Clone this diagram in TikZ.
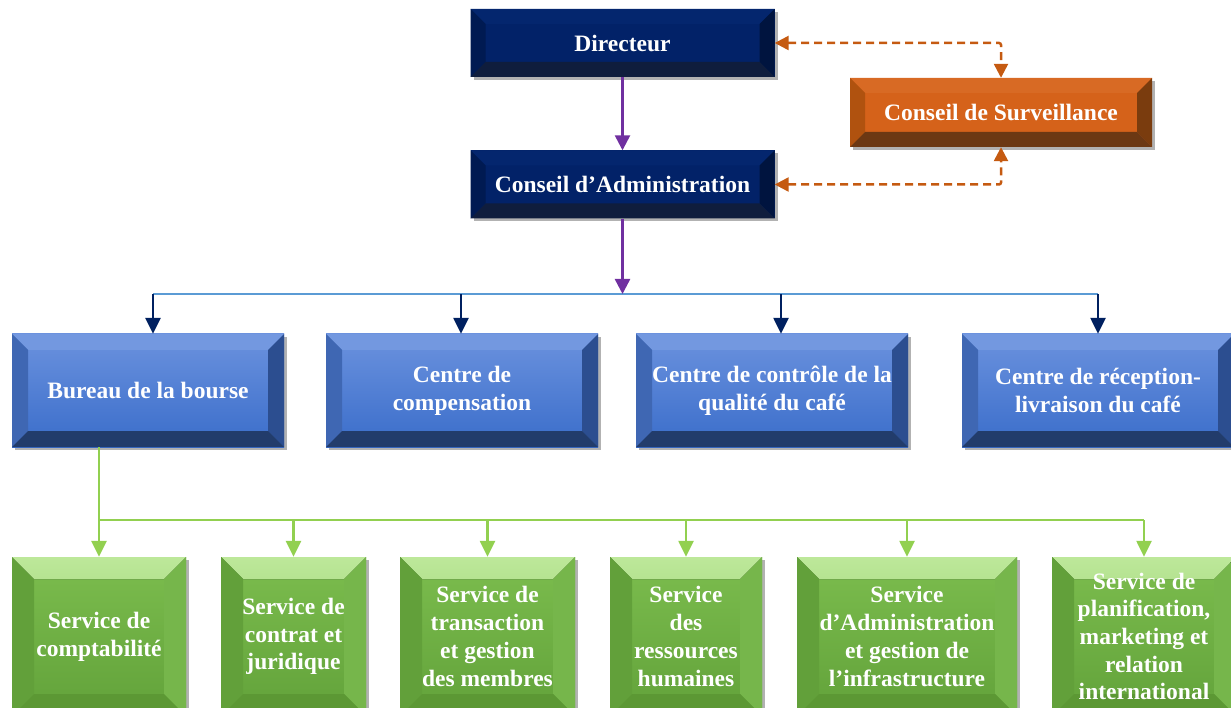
\documentclass[tikz,border=0pt]{standalone}
\usepackage{fontspec}
\setmainfont{Liberation Serif}
\usetikzlibrary{arrows.meta,shadows}
\definecolor{navyface}{HTML}{022268}
\definecolor{navytop}{HTML}{04266E}
\definecolor{navyleft}{HTML}{001A52}
\definecolor{navyright}{HTML}{00143F}
\definecolor{navybot}{HTML}{0F1D3D}
\definecolor{orface}{HTML}{D5621A}
\definecolor{ortop}{HTML}{D86A24}
\definecolor{orleft}{HTML}{B0520F}
\definecolor{orright}{HTML}{7A3C0E}
\definecolor{orbot}{HTML}{6C3813}
\definecolor{blutop}{HTML}{6B92DE}
\definecolor{blubot}{HTML}{3A6DCA}
\definecolor{bluetopb}{HTML}{7398E0}
\definecolor{blueleft}{HTML}{3F67B3}
\definecolor{blueright}{HTML}{2C4E90}
\definecolor{bluebot}{HTML}{223C6B}
\definecolor{grtop}{HTML}{7CBD4E}
\definecolor{grbot}{HTML}{62A23A}
\definecolor{grtopa}{HTML}{BDE89A}
\definecolor{grtopz}{HTML}{86C45A}
\definecolor{grleft}{HTML}{62A03A}
\definecolor{grright}{HTML}{76B64B}
\definecolor{grbotb}{HTML}{5C9834}
\definecolor{purp}{HTML}{7030A0}
\definecolor{orline}{HTML}{C55A11}
\definecolor{navyline}{HTML}{002060}
\definecolor{busblue}{HTML}{5B9BD5}
\definecolor{grline}{HTML}{92D050}
\newcommand{\bevelpp}[5]{%
 \def\pb{path picture bounding box}%
 \fill[#2] (\pb.north west) -- (\pb.north east) -- ([xshift=-#1,yshift=-#1]\pb.north east) -- ([xshift=#1,yshift=-#1]\pb.north west) -- cycle;
 \fill[#3] (\pb.north west) -- ([xshift=#1,yshift=-#1]\pb.north west) -- ([xshift=#1,yshift=#1]\pb.south west) -- (\pb.south west) -- cycle;
 \fill[#4] (\pb.north east) -- ([xshift=-#1,yshift=-#1]\pb.north east) -- ([xshift=-#1,yshift=#1]\pb.south east) -- (\pb.south east) -- cycle;
 \fill[#5] (\pb.south west) -- ([xshift=#1,yshift=#1]\pb.south west) -- ([xshift=-#1,yshift=#1]\pb.south east) -- (\pb.south east) -- cycle;
}
\tikzset{
 boxbase/.style={rectangle, inner sep=0pt, align=center, text=white,
   font=\fontsize{23.5}{27.7}\selectfont\bfseries,
   drop shadow={shadow xshift=3pt, shadow yshift=-3pt, opacity=0.3, fill=black}},
 navybox/.style={boxbase, fill=navyface, minimum width=304pt, minimum height=68pt,
   path picture={\bevelpp{15pt}{navytop}{navyleft}{navyright}{navybot}}},
 orbox/.style={boxbase, fill=orface, minimum width=302pt, minimum height=69pt,
   path picture={\bevelpp{15pt}{ortop}{orleft}{orright}{orbot}}},
 bluebox/.style={boxbase, top color=blutop, bottom color=blubot, minimum width=272pt, minimum height=113pt,
   path picture={\bevelpp{16pt}{bluetopb}{blueleft}{blueright}{bluebot}}},
 grbox/.style={boxbase, top color=grtop, bottom color=grbot, minimum height=159pt,
   path picture={\bevelpp{22pt}{top color=grtopa, bottom color=grtopz}{grleft}{grright}{grbotb}}},
 purarrow/.style={draw=purp, line width=2.5pt, -{Triangle[width=15pt,length=15pt]}},
 navyarrow/.style={draw=navyline, line width=2.5pt, -{Triangle[width=15pt,length=16pt]}},
 grarrow/.style={draw=grline, line width=2.5pt, -{Triangle[width=15pt,length=16pt]}},
 orarrow/.style={draw=orline, line width=2.5pt, dash pattern=on 8pt off 5pt, rounded corners=2pt,
   {Triangle[width=14pt,length=14pt]}-{Triangle[width=14pt,length=14pt]}},
}
\begin{document}
\begin{tikzpicture}[x=1pt,y=-1pt]
\useasboundingbox (0,0) rectangle (1231,708);
% top boxes
\node[navybox] (dir) at (622.5,43) {Directeur};
\node[navybox] (ca) at (622.5,184.5) {Conseil d’Administration};
\node[orbox] (cs) at (1001,112.5) {Conseil de Surveillance};
% blue boxes
\node[bluebox] (b1) at (148,390.5) {Bureau de la bourse};
\node[bluebox] (b2) at (462,390.5) {Centre de\\compensation};
\node[bluebox] (b3) at (772,390.5) {Centre de contrôle de la\\qualité du café};
\node[bluebox] (b4) at (1098,390.5) {Centre de réception-\\livraison du café};
% green boxes
\node[grbox, minimum width=174pt] (g1) at (99,636.5) {Service de\\comptabilité};
\node[grbox, minimum width=145pt] (g2) at (293.5,636.5) {Service de\\contrat et\\juridique};
\node[grbox, minimum width=175pt] (g3) at (487.5,636.5) {Service de\\transaction\\et gestion\\des membres};
\node[grbox, minimum width=152pt] (g4) at (686,636.5) {Service\\des\\ressources\\humaines};
\node[grbox, minimum width=220pt] (g5) at (907,636.5) {Service\\d’Administration\\et gestion de\\l’infrastructure};
\node[grbox, minimum width=184pt] (g6) at (1144,636.5) {Service de\\planification,\\marketing et\\relation\\international};
% connectors top
\draw[purarrow] (dir.south) -- (ca.north);
\draw[orarrow] (dir.east) -| (cs.north);
\draw[orarrow] (ca.east) -| (cs.south);
% bus
\coordinate (bus1) at (153,294);
\coordinate (bus2) at (461,294);
\coordinate (bus3) at (781,294);
\coordinate (bus4) at (1098,294);
\draw[busblue, line width=1.3pt] (bus1) -- (bus4);
\draw[purarrow] (ca.south) -- (ca.south |- bus1);
\draw[navyarrow] (bus1) -- (bus1 |- b1.north);
\draw[navyarrow] (bus2) -- (bus2 |- b2.north);
\draw[navyarrow] (bus3) -- (bus3 |- b3.north);
\draw[navyarrow] (bus4) -- (bus4 |- b4.north);
% green tree
\coordinate (gj) at (99,520);
\coordinate (gr) at (1144,520);
\draw[grline, line width=2pt] (gj) -- (gr);
\draw[grline, line width=2.5pt] (b1.south -| gj) -- (gj);
\draw[grarrow] (gj) -- (g1.north);
\draw[grarrow] (gj -| g2.north) -- (g2.north);
\draw[grarrow] (gj -| g3.north) -- (g3.north);
\draw[grarrow] (gj -| g4.north) -- (g4.north);
\draw[grarrow] (gj -| g5.north) -- (g5.north);
\draw[grarrow] (gr) -- (g6.north);
\end{tikzpicture}
\end{document}
